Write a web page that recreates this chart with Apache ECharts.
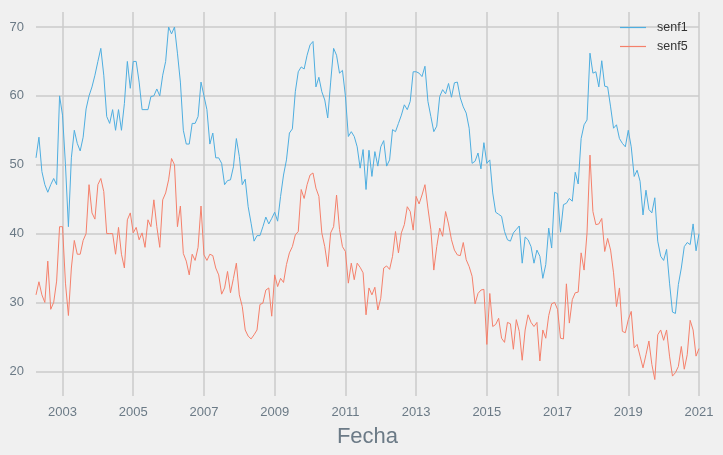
<!DOCTYPE html>
<html>
<head>
<meta charset="utf-8">
<script src="https://cdn.jsdelivr.net/npm/echarts@6/dist/echarts.min.js"></script>
<style>
html,body{margin:0;padding:0;background:#f0f0f0;}
#chart{width:723px;height:455px;}
</style>
</head>
<body>
<div id="chart"></div>
<script>
// Monthly series, first value is April 2002, last value is January 2021
const startYear = 2002;
const startMonth = 4;

const senf1 = [
  51.0, 54.0, 49.0, 47.1, 46.0, 47.1, 48.0, 47.1, 60.0, 57.2,
  50.0, 41.0, 51.0, 55.0, 53.1, 52.0, 54.0, 58.1, 60.0, 61.3,
  63.0, 65.0, 66.9, 63.0, 57.0, 56.0, 58.0, 55.0, 58.0, 55.0,
  58.9, 65.0, 61.1, 65.0, 65.0, 62.0, 58.0, 58.0, 58.0, 59.9,
  60.0, 61.0, 60.0, 63.0, 65.0, 70.0, 69.0, 70.0, 66.2, 62.0,
  55.0, 53.0, 53.0, 56.0, 56.0, 57.0, 62.0, 60.0, 58.0, 53.0,
  54.6, 51.0, 51.0, 50.2, 47.1, 47.7, 47.8, 49.7, 53.8, 51.2,
  47.1, 47.9, 43.9, 41.5, 38.9, 39.7, 39.7, 41.0, 42.4, 41.4,
  42.2, 43.1, 41.8, 45.4, 48.5, 50.7, 54.6, 55.2, 60.6, 63.5,
  64.2, 63.9, 65.9, 67.4, 67.9, 61.3, 62.7, 60.6, 59.4, 56.8,
  62.0, 66.9, 65.9, 63.3, 63.7, 60.0, 54.1, 54.8, 54.1, 52.6,
  49.5, 52.2, 46.4, 52.1, 48.3, 51.9, 49.8, 52.6, 53.5, 49.8,
  50.7, 55.1, 54.8, 56.0, 57.2, 58.7, 58.0, 59.2, 63.5, 63.5,
  63.3, 62.8, 64.3, 59.2, 57.0, 54.8, 55.6, 59.9, 60.9, 60.3,
  61.8, 59.8, 61.9, 62.0, 59.7, 58.4, 57.5, 55.3, 50.2, 50.5,
  51.7, 49.4, 53.2, 50.2, 50.7, 45.9, 43.1, 42.8, 42.5, 40.3,
  39.1, 38.9, 40.1, 40.6, 41.1, 35.7, 39.5, 39.1, 38.1, 35.7,
  37.6, 36.7, 33.5, 35.5, 40.8, 37.9, 46.0, 45.8, 40.2, 44.2,
  44.4, 45.1, 44.7, 48.9, 47.2, 53.8, 55.8, 56.5, 66.2, 63.3,
  63.5, 61.3, 65.1, 61.4, 61.3, 58.4, 55.3, 55.8, 53.8, 53.1,
  52.6, 55.0, 52.6, 48.3, 49.2, 47.6, 42.7, 46.3, 43.5, 43.0,
  45.2, 38.9, 36.7, 36.1, 37.7, 32.8, 28.6, 28.4, 32.6, 35.0,
  38.1, 38.7, 38.4, 41.4, 37.5, 40.0
];

const senf5 = [
  31.1, 33.0, 31.1, 30.0, 36.0, 29.0, 30.0, 33.1, 41.0, 41.0,
  32.8, 28.1, 35.0, 39.0, 37.0, 37.0, 39.0, 40.0, 47.1, 43.0,
  42.1, 47.1, 48.0, 46.1, 40.0, 40.0, 40.0, 37.0, 40.9, 37.0,
  35.0, 42.0, 43.0, 40.1, 40.9, 39.1, 40.1, 38.0, 42.0, 41.0,
  44.9, 41.0, 38.0, 44.9, 45.9, 47.8, 50.9, 50.0, 41.0, 44.0,
  37.1, 36.0, 34.0, 37.0, 36.1, 38.0, 44.0, 36.9, 36.1, 37.0,
  36.8, 35.0, 34.0, 31.2, 32.1, 34.5, 31.4, 33.5, 35.7, 31.1,
  29.4, 26.0, 25.1, 24.7, 25.3, 26.0, 29.7, 29.9, 31.8, 32.1,
  28.0, 34.0, 32.3, 33.5, 32.9, 35.5, 37.2, 38.1, 39.8, 40.3,
  46.4, 45.1, 47.1, 48.5, 48.8, 46.6, 45.4, 40.1, 38.1, 35.2,
  40.1, 41.0, 45.6, 40.6, 38.1, 37.4, 32.8, 35.7, 33.3, 35.7,
  35.1, 34.3, 28.2, 32.1, 31.1, 32.2, 28.9, 30.6, 35.0, 35.3,
  34.8, 36.7, 40.3, 37.2, 40.1, 41.3, 43.9, 43.2, 40.5, 45.4,
  44.3, 45.6, 47.1, 43.7, 40.6, 34.7, 38.1, 40.8, 39.6, 43.2,
  41.4, 39.1, 37.6, 36.9, 36.8, 38.7, 36.2, 35.2, 33.8, 29.8,
  31.3, 31.8, 31.9, 23.9, 31.3, 26.5, 26.8, 27.7, 24.8, 24.2,
  27.1, 26.9, 23.2, 27.5, 25.8, 21.6, 26.0, 28.2, 27.1, 26.5,
  27.1, 21.5, 26.0, 24.8, 28.1, 29.8, 30.0, 29.0, 24.8, 24.7,
  32.7, 27.0, 30.4, 31.4, 31.5, 37.2, 34.7, 40.1, 51.4, 43.2,
  41.3, 41.4, 42.2, 37.4, 39.3, 37.6, 34.3, 29.4, 32.1, 25.8,
  25.6, 27.5, 28.7, 23.4, 23.9, 22.2, 20.5, 22.4, 24.4, 21.0,
  18.8, 25.3, 26.0, 24.5, 26.0, 22.2, 19.3, 19.8, 20.7, 23.6,
  20.3, 22.4, 27.4, 26.0, 22.2, 23.3
];

const xTickYears = [2003, 2005, 2007, 2009, 2011, 2013, 2015, 2017, 2019, 2021];
const yTicks = [20, 30, 40, 50, 60, 70];

// decimal-year positions of the monthly observations
const dates = senf1.map((_, i) => startYear + (startMonth - 1 + i) / 12);

const chart = echarts.init(document.getElementById('chart'), null, {renderer: 'canvas'});
const axisTextColor = '#6b7a86';
const gridColor = '#cbcbcb';
const blue = '#4eaee0';
const salmon = '#f5806b';

chart.setOption({
  backgroundColor: '#f0f0f0',
  animation: false,
  grid: {left: 36, right: 24, top: 12, bottom: 59, containLabel: false},
  legend: {
    orient: 'vertical',
    left: 620,
    top: 20,
    padding: 0,
    icon: 'rect',
    itemWidth: 26,
    itemHeight: 1.2,
    itemGap: 4,
    textStyle: {color: '#333333', fontSize: 12.5, fontFamily: 'Liberation Sans', padding: [0, 0, 0, 6], lineHeight: 15},
    data: [
      {name: 'senf1', itemStyle: {color: blue}},
      {name: 'senf5', itemStyle: {color: salmon}}
    ]
  },
  xAxis: {
    type: 'value',
    min: dates[0],
    max: dates[dates.length - 1],
    name: 'Fecha',
    nameLocation: 'middle',
    nameGap: 30,
    nameTextStyle: {color: axisTextColor, fontSize: 22, fontFamily: 'Liberation Sans', verticalAlign: 'top'},
    axisLine: {show: false},
    axisTick: {show: false, customValues: xTickYears},
    axisLabel: {
      customValues: xTickYears,
      color: axisTextColor, fontSize: 13, fontFamily: 'Liberation Sans', margin: 10,
      formatter: v => String(Math.round(v))
    },
    splitLine: {show: true, lineStyle: {color: gridColor, width: 1.5}}
  },
  yAxis: {
    type: 'value',
    min: 16.41,
    max: 72.18,
    axisLine: {show: false},
    axisTick: {show: false, customValues: yTicks},
    axisLabel: {
      customValues: yTicks,
      color: axisTextColor, fontSize: 13, fontFamily: 'Liberation Sans', margin: 12,
      formatter: v => String(Math.round(v))
    },
    splitLine: {show: true, lineStyle: {color: gridColor, width: 1.5}}
  },
  series: [
    {
      name: 'senf1', type: 'line', symbol: 'none',
      data: dates.map((d, i) => [d, senf1[i]]),
      lineStyle: {color: blue, width: 1},
      itemStyle: {color: blue}
    },
    {
      name: 'senf5', type: 'line', symbol: 'none',
      data: dates.map((d, i) => [d, senf5[i]]),
      lineStyle: {color: salmon, width: 1},
      itemStyle: {color: salmon}
    }
  ]
});
</script>
</body>
</html>
